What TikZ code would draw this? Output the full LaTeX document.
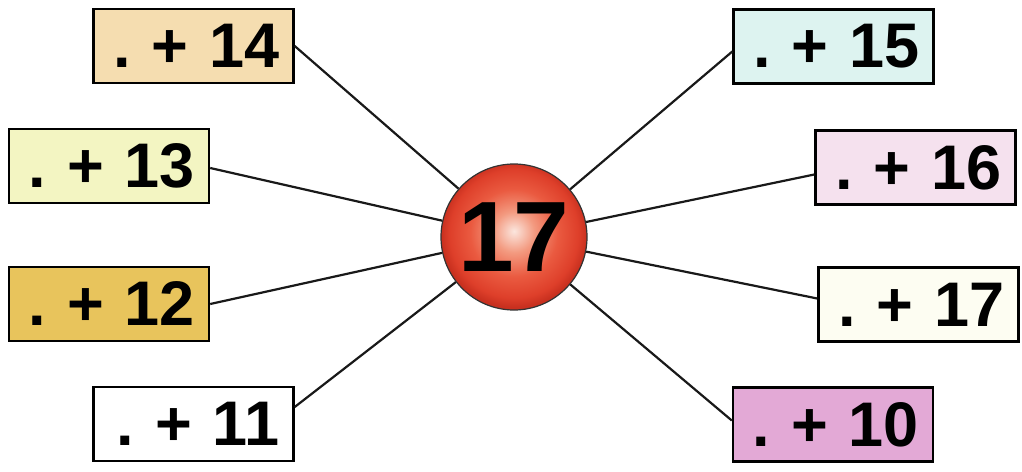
\documentclass[tikz,border=0pt]{standalone}
\usepackage{fontspec}
\setmainfont{Liberation Sans}
\definecolor{c14}{HTML}{F5DDB0}
\definecolor{c13}{HTML}{F3F5C2}
\definecolor{c12}{HTML}{E8C45C}
\definecolor{c11}{HTML}{FFFFFF}
\definecolor{c15}{HTML}{DDF3F0}
\definecolor{c16}{HTML}{F5E1EE}
\definecolor{c17}{HTML}{FDFDF2}
\definecolor{c10}{HTML}{E3A9D6}
\definecolor{r0}{HTML}{FBE6DE}
\definecolor{r1}{HTML}{F39A80}
\definecolor{r2}{HTML}{EA5A40}
\definecolor{r3}{HTML}{DE3F2A}
\definecolor{r4}{HTML}{C8301F}
\pgfdeclareradialshading{ballred}{\pgfpoint{0bp}{2bp}}{%
  color(0bp)=(r0);
  color(7bp)=(r1);
  color(15bp)=(r2);
  color(22bp)=(r3);
  color(25bp)=(r4);
  color(50bp)=(r4)}
\tikzset{
  numbox/.style={draw=black, line width=2.4pt, minimum height=74pt,
    text width=172pt, inner xsep=14pt, inner ysep=0pt, align=right,
    font=\fontsize{63}{63}\selectfont\bfseries\frenchspacing},
  spoke/.style={line width=2.2pt, black!90},
}
\begin{document}
\begin{tikzpicture}[x=1pt,y=-1pt]
\useasboundingbox (0,0) rectangle (1022,471);
\fill[white] (0,0) rectangle (1022,471);
\node[circle, draw=black!80, line width=1.2pt, minimum size=146pt, inner sep=0pt,
  shading=ballred, font=\fontsize{100}{100}\selectfont\bfseries] (c) at (514,237) {17};
\node[numbox, fill=c14] (b14) at (193.5,46) {\mbox{. + 14}};
\node[numbox, fill=c13] (b13) at (109,166) {\mbox{. + 13}};
\node[numbox, fill=c12] (b12) at (109,304) {\mbox{. + 12}};
\node[numbox, fill=c11] (b11) at (193.5,424) {\mbox{. + 11}};
\node[numbox, fill=c15] (b15) at (833.5,46.5) {\mbox{. + 15}};
\node[numbox, fill=c16] (b16) at (915.5,167.5) {\mbox{. + 16}};
\node[numbox, fill=c17] (b17) at (918.5,304.5) {\mbox{. + 17}};
\node[numbox, fill=c10] (b10) at (833,424.5) {\mbox{. + 10}};
\draw[spoke] (b14.east) -- (c);
\draw[spoke] ([yshift=-2pt]b13.east) -- (c);
\draw[spoke] (b12.east) -- (c);
\draw[spoke] ([yshift=17pt]b11.east) -- (c);
\draw[spoke] ([yshift=-5pt]b15.west) -- (c);
\draw[spoke] ([yshift=-7pt]b16.west) -- (c);
\draw[spoke] ([yshift=6pt]b17.west) -- (c);
\draw[spoke] ([yshift=4pt]b10.west) -- (c);
\end{tikzpicture}
\end{document}
